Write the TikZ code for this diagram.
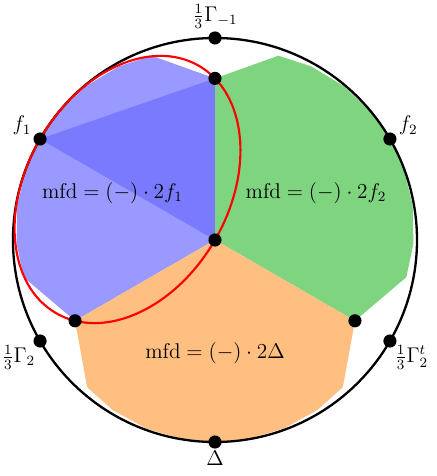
\documentclass[tikz,border=0pt]{standalone}
\usepackage{amsmath}
\usepackage{amssymb}
\usepackage{tikz}
\definecolor{regB}{RGB}{153,153,255}
\definecolor{regBdark}{RGB}{122,122,255}
\definecolor{regG}{RGB}{127,212,127}
\definecolor{regO}{RGB}{255,191,128}
\begin{document}
\begin{tikzpicture}[
  every node/.style={font=\large},
  dot/.style={circle, fill=black, inner sep=0pt, minimum size=0.26cm},
  rim/.style={line width=1.3pt},
  oval/.style={draw=red, line width=1.2pt},
  tag/.style={inner sep=1pt}
]
  \useasboundingbox (-4.257,-4.673) rectangle (4.376,4.752);

  % points on the rim and inside
  \coordinate (c0) at (0,0);
  \coordinate (p90) at (90:3.2);
  \coordinate (p210) at (210:3.2);
  \coordinate (p330) at (330:3.2);
  \coordinate (q150) at (150:4);

  % the three regions
  \foreach \s/\col in {90/regB, -30/regG, 210/regO}
    \fill[\col] (c0) -- (\s:3.2) -- ({\s+19}:3.86) -- ({\s+29}:3.93) -- ({\s+40}:3.975)
      -- ({\s+50}:3.99) -- ({\s+60}:4) -- ({\s+70}:3.99) -- ({\s+80}:3.975)
      -- ({\s+91}:3.93) -- ({\s+101}:3.86) -- ({\s+120}:3.2) -- cycle;
  \fill[regBdark] (c0) -- (p90) -- (q150) -- cycle;

  \draw[rim] (c0) circle (4);
  \draw[oval, rotate around={60:(150:2)}] (150:2) ellipse (2.828 and 2);

  \node[dot, label={[tag]above:$\frac{1}{3}\Gamma_{-1}$}] (gm1) at (90:4) {};
  \node[dot, label={[tag]165:$f_1$}] (f1) at (q150) {};
  \node[dot, label={[tag]15:$f_2$}] (f2) at (30:4) {};
  \node[dot, label={[tag, label distance=-2pt]-145:$\frac{1}{3}\Gamma_2$}] (gm2) at (210:4) {};
  \node[dot, label={[tag, label distance=-2pt]-35:$\frac{1}{3}\Gamma_2^t$}] (gm2t) at (330:4) {};
  \node[dot, label={[tag]below:$\Delta$}] (dl) at (270:4) {};

  \node[dot] (ctr) at (c0) {};
  \node[dot] (inT) at (p90) {};
  \node[dot] (inL) at (p210) {};
  \node[dot] (inR) at (p330) {};

  \node (mfdB) at (-2.03,0.93) {$\mathrm{mfd}=(-)\cdot 2f_1$};
  \node (mfdG) at (2.00,0.93) {$\mathrm{mfd}=(-)\cdot 2f_2$};
  \node (mfdO) at (0,-2.24) {$\mathrm{mfd}=(-)\cdot 2\Delta$};
\end{tikzpicture}
\end{document}
